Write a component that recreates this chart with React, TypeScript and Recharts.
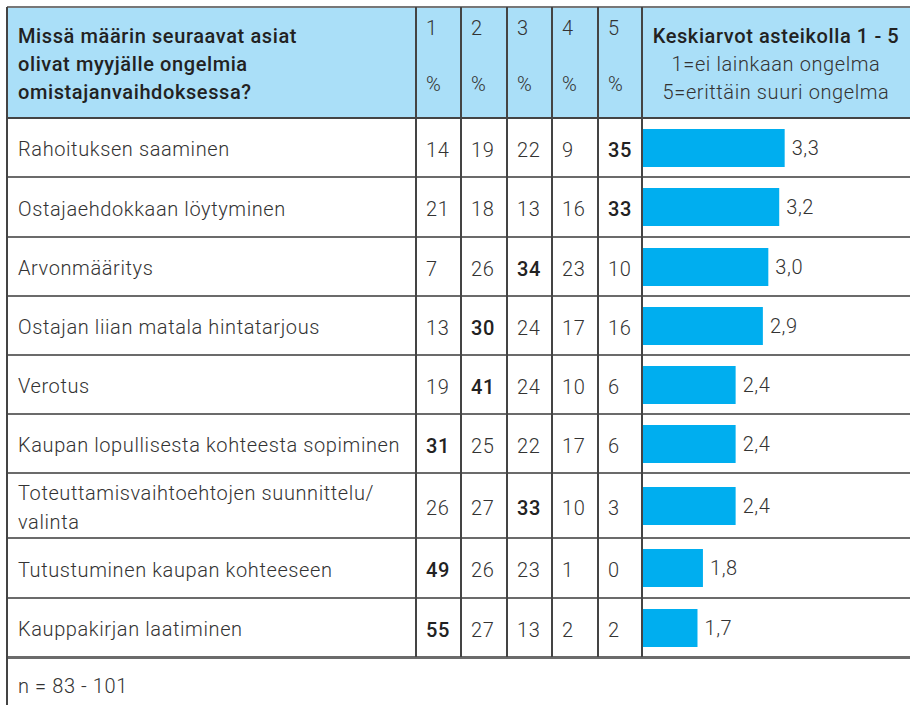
import { Bar, BarChart, LabelList, XAxis, YAxis } from 'recharts';

const categories = [
  'Rahoituksen saaminen',
  'Ostajaehdokkaan löytyminen',
  'Arvonmääritys',
  'Ostajan liian matala hintatarjous',
  'Verotus',
  'Kaupan lopullisesta kohteesta sopiminen',
  'Toteuttamisvaihtoehtojen suunnittelu/ valinta',
  'Tutustuminen kaupan kohteeseen',
  'Kauppakirjan laatiminen',
];
const pct1 = [14, 21, 7, 13, 19, 31, 26, 49, 55];
const pct2 = [19, 18, 26, 30, 41, 25, 27, 26, 27];
const pct3 = [22, 13, 34, 24, 24, 22, 33, 23, 13];
const pct4 = [9, 16, 23, 17, 10, 17, 10, 1, 2];
const pct5 = [35, 33, 10, 16, 6, 6, 3, 0, 2];
const means = [3.3, 3.2, 3.0, 2.9, 2.4, 2.4, 2.4, 1.8, 1.7];
const scaleLabels = ['1', '2', '3', '4', '5'];

const questionLines = ['Missä määrin seuraavat asiat', 'olivat myyjälle ongelmia', 'omistajanvaihdoksessa?'];
const meanTitle = 'Keskiarvot asteikolla 1 - 5';
const meanNotes = ['1=ei lainkaan ongelma', '5=erittäin suuri ongelma'];
const sampleNote = 'n = 83 - 101';

const FONT = 'Roboto, "DejaVu Sans", sans-serif';
const TEXT = '#333';
const SPACING = 0.6;
const ROW_LINES = [118, 177, 237, 296, 355, 414, 473, 538, 598, 657];
const COL_LINES = [7, 416, 461, 507, 552, 598, 642];
const RIGHT = 910;

const fmt = (v: number) => v.toFixed(1).replace('.', ',');

function MeanBar({ label, value, height }: { label: string; value: number; height: number }) {
  return (
    <BarChart
      width={RIGHT - COL_LINES[6] - 1}
      height={height}
      data={[{ label, value }]}
      layout="vertical"
      margin={{ top: 0, right: 0, bottom: 0, left: 0 }}
    >
      <XAxis type="number" domain={[0.7, 5.6]} hide />
      <YAxis type="category" dataKey="label" hide width={0} />
      <Bar dataKey="value" fill="#00aeef" barSize={38} isAnimationActive={false}>
        <LabelList
          dataKey="value"
          position="right"
          offset={7}
          formatter={(v: number) => fmt(v)}
          style={{ fill: TEXT, fontSize: 20, fontFamily: FONT, fontWeight: 300, letterSpacing: SPACING }}
        />
      </Bar>
    </BarChart>
  );
}

export default function App() {
  const pcts = [pct1, pct2, pct3, pct4, pct5];

  return (
    <div
      style={{
        position: 'absolute',
        left: 0,
        top: 0,
        width: 910,
        height: 705,
        overflow: 'hidden',
        background: '#fff',
        fontFamily: FONT,
        color: TEXT,
        letterSpacing: SPACING,
      }}
    >
      {/* header band */}
      <div style={{ position: 'absolute', left: 7, top: 7, width: RIGHT - 7, height: ROW_LINES[0] - 7, background: '#aadff8' }} />

      <div style={{ position: 'absolute', left: 18, top: 22, fontSize: 20, fontWeight: 500, lineHeight: '28px', color: '#222' }}>
        {questionLines.map((l) => (
          <div key={l}>{l}</div>
        ))}
      </div>

      {scaleLabels.map((s, j) => (
        <div key={s} style={{ position: 'absolute', left: COL_LINES[j + 1] + 10, top: 14, fontSize: 20, fontWeight: 300, lineHeight: '28px' }}>
          <div>{s}</div>
          <div style={{ marginTop: 28 }}>%</div>
        </div>
      ))}

      <div
        style={{
          position: 'absolute',
          left: COL_LINES[6],
          top: 22,
          width: RIGHT - COL_LINES[6],
          textAlign: 'center',
          fontSize: 20,
          lineHeight: '28px',
          fontWeight: 300,
        }}
      >
        <div style={{ fontWeight: 500, color: '#222' }}>{meanTitle}</div>
        {meanNotes.map((n) => (
          <div key={n}>{n}</div>
        ))}
      </div>

      {/* rows */}
      {categories.map((cat, i) => {
        const top = ROW_LINES[i] + 1;
        const h = ROW_LINES[i + 1] - ROW_LINES[i] - 2;
        const rowVals = pcts.map((p) => p[i]);
        const max = Math.max(...rowVals);
        return (
          <div key={cat}>
            <div
              style={{
                position: 'absolute',
                left: 18,
                top: top + 2,
                width: 392,
                height: h,
                display: 'flex',
                alignItems: 'center',
                fontSize: 20,
                fontWeight: 300,
                lineHeight: '29px',
              }}
            >
              <div>{cat}</div>
            </div>
            {rowVals.map((v, j) => (
              <div
                key={j}
                style={{
                  position: 'absolute',
                  left: COL_LINES[j + 1] + 10,
                  top: top + 2,
                  height: h,
                  display: 'flex',
                  alignItems: 'center',
                  fontSize: 20,
                  fontWeight: v === max ? 500 : 300,
                  color: v === max ? '#222' : TEXT,
                }}
              >
                {v}
              </div>
            ))}
            <div style={{ position: 'absolute', left: COL_LINES[6] + 1, top }}>
              <MeanBar label={cat} value={means[i]} height={h} />
            </div>
          </div>
        );
      })}

      <div style={{ position: 'absolute', left: 18, top: 672, fontSize: 20, fontWeight: 300, lineHeight: '28px' }}>{sampleNote}</div>

      {/* grid lines */}
      <div style={{ position: 'absolute', left: 7, top: 6, width: RIGHT - 7, height: 2, background: '#777' }} />
      {ROW_LINES.map((y, k) => (
        <div
          key={y}
          style={{
            position: 'absolute',
            left: 7,
            top: y - 1,
            width: RIGHT - 7,
            height: k === ROW_LINES.length - 1 ? 3 : 2,
            background: k === 0 ? '#444' : '#6b6b6b',
          }}
        />
      ))}
      {COL_LINES.map((x, k) => (
        <div
          key={x}
          style={{
            position: 'absolute',
            left: x - 1,
            top: 7,
            width: 2,
            height: (k === 0 ? 705 : ROW_LINES[ROW_LINES.length - 1]) - 7,
            background: '#444',
          }}
        />
      ))}
    </div>
  );
}
